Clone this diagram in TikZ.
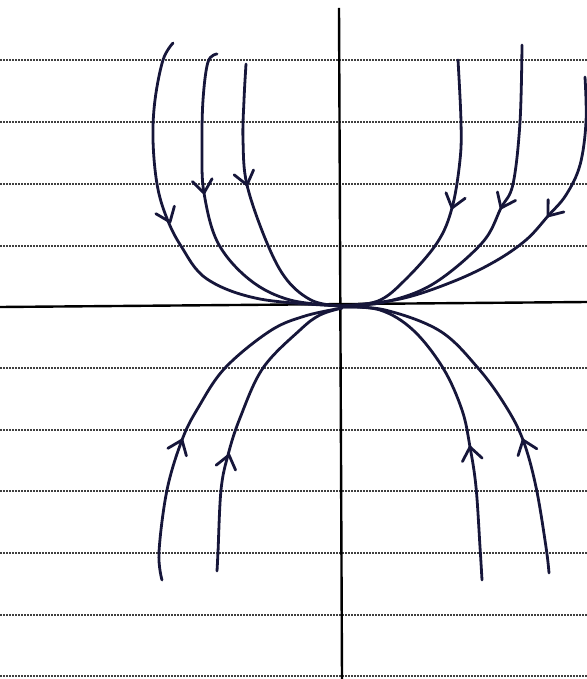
\documentclass[tikz,border=0pt]{standalone}
\begin{document}
\begin{tikzpicture}[x=0.5pt,y=-0.5pt,
  rule/.style={draw=black!75,line width=1pt,dash pattern=on 1pt off 0.5pt},
  axis/.style={draw=black,line width=1.2pt},
  traj/.style={draw=curveblue,line width=1.4pt,line cap=round,line join=round},
  vhead/.pic={\draw[traj] (-13,-10) -- (0,0) -- (-13,10);}]
\definecolor{curveblue}{HTML}{16163A}
\useasboundingbox (0,0) rectangle (587,679);
% ruled lines
\foreach \yy in {60,122,184,246,368,430,491,553,615,676}
  \draw[rule] (0,\yy) -- (587,\yy);
% axes
\draw[axis] (0,307) -- (587,302);
\draw[axis] (339,8) -- (342,679);
% upper-left trajectories
\draw[traj] plot[smooth,tension=0.6] coordinates {(173,43) (163,60) (155,100) (153,140) (157,184) (166,216) (181,246) (207,279) (260,299) (342,306)};
\draw[traj] plot[smooth,tension=0.6] coordinates {(217,54) (208,62) (203,100) (202,150) (204,193) (218,243) (250,280) (290,300) (342,306)};
\draw[traj] plot[smooth,tension=0.6] coordinates {(246,64) (244,100) (243,140) (247,185) (267,243) (287,280) (313,301) (342,306)};
% upper-right trajectories
\draw[traj] plot[smooth,tension=0.6] coordinates {(458,60) (461,122) (460,160) (452,208) (437,243) (405,280) (378,301) (342,306)};
\draw[traj] plot[smooth,tension=0.6] coordinates {(522,45) (520,122) (513,184) (501,208) (482,243) (433,284) (385,302) (342,306)};
\draw[traj] plot[smooth,tension=0.6] coordinates {(585,77) (586,122) (580,165) (566,195) (548,216) (526,240) (494,262) (452,282) (400,299) (342,306)};
% lower trajectories
\draw[traj] plot[smooth,tension=0.6] coordinates {(342,308) (305,316) (270,331) (225,368) (198,408) (182,440) (167,490) (159,552) (162,580)};
\draw[traj] plot[smooth,tension=0.6] coordinates {(342,308) (320,315) (300,330) (263,368) (240,418) (228,455) (221,490) (218,552) (217,571)};
\draw[traj] plot[smooth,tension=0.6] coordinates {(342,307) (380,310) (413,330) (443,368) (462,410) (470,447) (476,487) (480,547) (482,580)};
\draw[traj] plot[smooth,tension=0.6] coordinates {(342,307) (385,310) (440,331) (478,368) (505,405) (523,440) (536,487) (546,547) (549,573)};
% arrowheads
\pic[rotate=-68] at (170,222) {vhead};
\pic[rotate=-82] at (204,193) {vhead};
\pic[rotate=-76] at (247,185) {vhead};
\pic[rotate=-106] at (452,208) {vhead};
\pic[rotate=-115] at (501,208) {vhead};
\pic[rotate=-128] at (548,216) {vhead};
\pic[rotate=68] at (182,440) {vhead};
\pic[rotate=76] at (229,455) {vhead};
\pic[rotate=100] at (470,447) {vhead};
\pic[rotate=110] at (523,440) {vhead};
\end{tikzpicture}
\end{document}
